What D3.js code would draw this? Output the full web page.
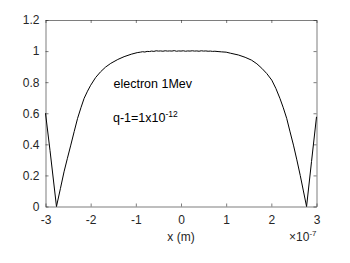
<!DOCTYPE html>
<html>
<head>
<meta charset="utf-8">
<script src="https://cdn.jsdelivr.net/npm/d3@7"></script>
<style>
  html, body { margin: 0; padding: 0; background: #fff; }
  svg { display: block; font-family: "Liberation Sans", Arial, Helvetica, sans-serif; }
</style>
</head>
<body>
<svg id="chart" width="350" height="263"></svg>
<script>
// x in units of 1e-7 m
const xValues = [
  -3.00, -2.90, -2.757, -2.67, -2.59, -2.515, -2.44, -2.365, -2.29, -2.215, -2.145, -2.07, -2.00,
  -1.89, -1.78, -1.67, -1.555, -1.40, -1.26, -1.10, -0.97,
  -0.90, -0.85, -0.80, -0.75, -0.70, -0.65, -0.60, -0.55, -0.50, -0.45, -0.40, -0.35, -0.30,
  -0.25, -0.20, -0.15, -0.10, -0.05, 0.00, 0.05, 0.10, 0.15, 0.20, 0.25, 0.30, 0.35, 0.40,
  0.45, 0.50, 0.55, 0.60, 0.65, 0.70, 0.75, 0.82, 0.90,
  1.00, 1.10, 1.27, 1.42, 1.56, 1.68, 1.79, 1.90, 2.01, 2.10, 2.19, 2.265, 2.34, 2.415, 2.49,
  2.565, 2.64, 2.71, 2.78, 2.89, 3.00
];
const yValues = [
  0.600, 0.360, 0.000, 0.115, 0.223, 0.310, 0.395, 0.482, 0.567, 0.636, 0.696, 0.742, 0.780,
  0.830, 0.867, 0.897, 0.921, 0.946, 0.964, 0.980, 0.990,
  0.993, 0.996, 0.994, 0.998, 0.997, 1.000, 0.998, 1.002, 1.000, 1.001, 0.999, 1.002, 1.000,
  1.001, 1.000, 1.003, 0.999, 1.001, 1.000, 1.002, 0.999, 1.001, 1.000, 1.002, 1.000, 1.001, 0.999,
  1.002, 1.000, 1.001, 0.999, 1.000, 0.998, 0.999, 0.997, 0.995,
  0.993, 0.986, 0.975, 0.960, 0.942, 0.918, 0.889, 0.855, 0.813, 0.760, 0.696, 0.635, 0.567, 0.480, 0.395,
  0.300, 0.200, 0.100, 0.000, 0.290, 0.577
];
const xTicks = [-3, -2, -1, 0, 1, 2, 3];
const yTicks = [0, 0.2, 0.4, 0.6, 0.8, 1, 1.2];
const xLabel = "x (m)";
const xExponent = "-7";
const annotation1 = "electron 1Mev";
const annotation2Base = "q-1=1x10";
const annotation2Exp = "-12";

const svg = d3.select("#chart");
const mLeft = 45.5, mRight = 316.5, mTop = 20, mBottom = 206.5;
const axisColor = "#262626";

const x = d3.scaleLinear().domain([-3, 3]).range([mLeft, mRight]);
const y = d3.scaleLinear().domain([0, 1.2]).range([mBottom, mTop]);

const fmt = d => String(d);

function styleAxis(g) {
  g.selectAll("path.domain").attr("stroke", axisColor).attr("stroke-width", 0.6);
  g.selectAll(".tick line").attr("stroke", axisColor).attr("stroke-width", 0.6);
  g.selectAll(".tick text").attr("fill", axisColor).attr("font-size", 12)
    .attr("font-family", "'Liberation Sans', Arial, Helvetica, sans-serif");
}

svg.append("g").attr("transform", `translate(0,${mBottom})`)
  .call(d3.axisBottom(x).tickValues(xTicks).tickFormat(fmt).tickSizeInner(-3).tickSizeOuter(0).tickPadding(9))
  .call(styleAxis);
svg.append("g").attr("transform", `translate(0,${mTop})`)
  .call(d3.axisTop(x).tickValues(xTicks).tickFormat("").tickSizeInner(-3).tickSizeOuter(0))
  .call(styleAxis);
svg.append("g").attr("transform", `translate(${mLeft},0)`)
  .call(d3.axisLeft(y).tickValues(yTicks).tickFormat(fmt).tickSizeInner(-3).tickSizeOuter(0).tickPadding(6))
  .call(styleAxis);
svg.append("g").attr("transform", `translate(${mRight},0)`)
  .call(d3.axisRight(y).tickValues(yTicks).tickFormat("").tickSizeInner(-3).tickSizeOuter(0))
  .call(styleAxis);

const pts = xValues.map((v, i) => [v, yValues[i]]);
svg.append("path")
  .datum(pts)
  .attr("fill", "none")
  .attr("stroke", "#000")
  .attr("stroke-width", 1)
  .attr("stroke-linejoin", "round")
  .attr("d", d3.line().x(d => x(d[0])).y(d => y(d[1])));

svg.append("text").attr("x", x(0)).attr("y", 241).attr("text-anchor", "middle")
  .attr("font-size", 12).attr("fill", axisColor).text(xLabel);

const ex = svg.append("text").attr("x", mRight).attr("y", 241).attr("text-anchor", "end")
  .attr("font-size", 12).attr("fill", axisColor);
ex.append("tspan").text("\u00d710");
ex.append("tspan").attr("font-size", 8).attr("dy", -5).text(xExponent);

svg.append("text").attr("x", 113.5).attr("y", 88).attr("font-size", 12.5).attr("fill", "#000").text(annotation1);
const a2 = svg.append("text").attr("x", 113).attr("y", 122).attr("font-size", 12.5).attr("fill", "#000");
a2.append("tspan").text(annotation2Base);
a2.append("tspan").attr("font-size", 8.5).attr("dy", -5).text(annotation2Exp);
</script>
</body>
</html>
